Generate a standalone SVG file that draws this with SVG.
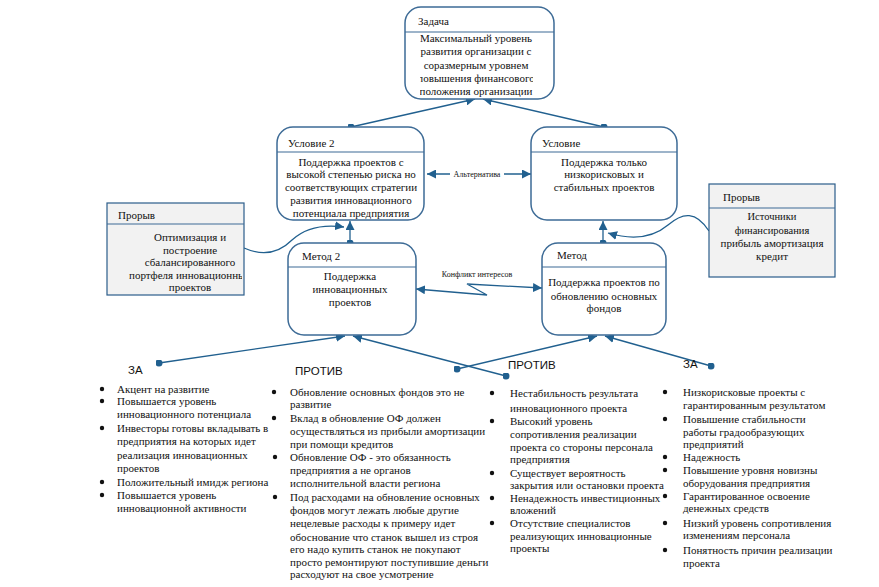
<svg xmlns="http://www.w3.org/2000/svg" width="879" height="587" viewBox="0 0 879 587">
<style>
.box{fill:#ffffff;stroke:#3d6b96;stroke-width:1.5}
.pbox{fill:#f2f2f2;stroke:#2b5d8a;stroke-width:1.2}
.div{stroke:#3d6b96;stroke-width:1.2}
.t{font-family:"Liberation Serif","Times New Roman",serif;font-size:11px;fill:#111}
.c{text-anchor:middle}
.lbl{font-family:"Liberation Serif","Times New Roman",serif;font-size:8px;fill:#111;text-anchor:middle}
.h{font-family:"Liberation Sans",Arial,sans-serif;font-size:11.5px;fill:#111}
.con{fill:none;stroke:#21608f;stroke-width:1.3}
.bul{fill:#111}
</style>
<defs>
<marker id="ah" viewBox="0 0 10 10" refX="10" refY="5" markerWidth="9" markerHeight="9" markerUnits="userSpaceOnUse" orient="auto-start-reverse"><path d="M0,0 L10,5 L0,10 z" fill="#21608f"/></marker>
<marker id="dot" viewBox="0 0 8 8" refX="4" refY="4" markerWidth="7" markerHeight="7" markerUnits="userSpaceOnUse"><circle cx="4" cy="4" r="4" fill="#21608f"/></marker>
<clipPath id="c1"><rect x="420" y="32" width="113" height="66"/></clipPath>
<clipPath id="c2"><rect x="284" y="152" width="134" height="67"/></clipPath>
<clipPath id="c3"><rect x="538" y="152" width="132" height="67"/></clipPath>
<clipPath id="c4"><rect x="295" y="267" width="115" height="67"/></clipPath>
<clipPath id="c5"><rect x="548" y="267" width="112" height="67"/></clipPath>
<clipPath id="c6"><rect x="110" y="225" width="132" height="68"/></clipPath>
<clipPath id="c7"><rect x="712" y="209" width="120" height="66"/></clipPath>
</defs>

<g id="connectors">
<path class="con" d="M351,127 L475,99" marker-start="url(#dot)" marker-end="url(#ah)"/>
<path class="con" d="M604,127 L483,99" marker-start="url(#dot)" marker-end="url(#ah)"/>
<path class="con" d="M427,174 L531,174" marker-start="url(#ah)" marker-end="url(#ah)"/>
<path class="con" d="M350,243 L350,221" marker-start="url(#dot)" marker-end="url(#ah)"/>
<path class="con" d="M244,248 C262,256 278,254 292,240 C305,228 322,224 344,227" marker-end="url(#ah)"/>
<path class="con" d="M603,243 L603,221" marker-start="url(#dot)" marker-end="url(#ah)"/>
<path class="con" d="M709,231 C696,211 683,212 668,225 C655,236 635,241 608,233" marker-end="url(#ah)"/>
<path class="con" d="M416,289 L487,295 L467,284 L542,288" marker-start="url(#ah)" marker-end="url(#ah)"/>
<path class="con" d="M159,363 L345,336" marker-start="url(#dot)" marker-end="url(#ah)"/>
<path class="con" d="M506,376 L353,336" marker-start="url(#dot)" marker-end="url(#ah)"/>
<path class="con" d="M457,369 L597,336" marker-start="url(#dot)" marker-end="url(#ah)"/>
<path class="con" d="M711,366 L605,336" marker-start="url(#dot)" marker-end="url(#ah)"/>
<rect x="450" y="169" width="54" height="10" fill="#ffffff"/>
<text class="lbl" x="477" y="177">Альтернатива</text>
<text class="lbl" x="477" y="277">Конфликт интересов</text>
</g>

<g id="zadacha">
<rect class="box" x="405" y="7" width="149" height="92" rx="16"/>
<line class="div" x1="405" y1="32" x2="554" y2="32"/>
<text class="t" x="418" y="25">Задача</text>
<g clip-path="url(#c1)">
<text class="t c" x="476" y="42">Максимальный уровень</text>
<text class="t c" x="476" y="55">развития организации с</text>
<text class="t c" x="476" y="68.5">соразмерным уровнем</text>
<text class="t c" x="476" y="81.5">повышения финансового</text>
<text class="t c" x="476" y="95">положения организации</text>
</g>
</g>

<g id="uslovie2">
<rect class="box" x="277" y="127" width="147" height="93" rx="16"/>
<line class="div" x1="277" y1="152" x2="424" y2="152"/>
<text class="t" x="288" y="147">Условие 2</text>
<g clip-path="url(#c2)">
<text class="t c" x="351" y="165.5">Поддержка проектов с</text>
<text class="t c" x="351" y="178">высокой степенью риска но</text>
<text class="t c" x="351" y="191">соответствующих стратегии</text>
<text class="t c" x="351" y="204">развития инновационного</text>
<text class="t c" x="351" y="217">потенциала предприятия</text>
</g>
</g>

<g id="uslovie">
<rect class="box" x="531" y="127" width="146" height="93" rx="16"/>
<line class="div" x1="531" y1="152" x2="677" y2="152"/>
<text class="t" x="542" y="147">Условие</text>
<g clip-path="url(#c3)">
<text class="t c" x="604" y="165.5">Поддержка только</text>
<text class="t c" x="604" y="178">низкорисковых и</text>
<text class="t c" x="604" y="191">стабильных проектов</text>
</g>
</g>

<g id="metod2">
<rect class="box" x="288" y="243" width="128" height="92" rx="16"/>
<line class="div" x1="288" y1="267" x2="416" y2="267"/>
<text class="t" x="302" y="260">Метод 2</text>
<g clip-path="url(#c4)">
<text class="t c" x="350" y="280">Поддержка</text>
<text class="t c" x="350" y="293">инновационных</text>
<text class="t c" x="350" y="305.5">проектов</text>
</g>
</g>

<g id="metod">
<rect class="box" x="542" y="243" width="124" height="92" rx="16"/>
<line class="div" x1="542" y1="267" x2="666" y2="267"/>
<text class="t" x="557" y="259">Метод</text>
<g clip-path="url(#c5)">
<text class="t c" x="604" y="286">Поддержка проектов по</text>
<text class="t c" x="604" y="299.5">обновлению основных</text>
<text class="t c" x="604" y="312">фондов</text>
</g>
</g>

<g id="proryv1">
<rect class="pbox" x="107" y="203" width="137" height="92"/>
<line class="div" x1="107" y1="224" x2="244" y2="224"/>
<text class="t" x="118" y="219">Прорыв</text>
<g clip-path="url(#c6)">
<text class="t c" x="190" y="241">Оптимизация и</text>
<text class="t c" x="190" y="253.5">построение</text>
<text class="t c" x="190" y="266">сбалансированного</text>
<text class="t c" x="190" y="278.5">портфеля инновационных</text>
<text class="t c" x="190" y="291">проектов</text>
</g>
</g>

<g id="proryv2">
<rect class="pbox" x="709" y="184" width="126" height="93"/>
<line class="div" x1="709" y1="208" x2="835" y2="208"/>
<text class="t" x="723" y="201">Прорыв</text>
<g clip-path="url(#c7)">
<text class="t c" x="772" y="220" style="font-size:10.5px">Источники</text>
<text class="t c" x="772" y="233.5" style="font-size:10.5px">финансирования</text>
<text class="t c" x="772" y="247">прибыль амортизация</text>
<text class="t c" x="772" y="260">кредит</text>
</g>
</g>

<g id="za1">
<text class="h" x="128" y="374">ЗА</text>
<circle class="bul" cx="102" cy="389" r="2.2"/>
<circle class="bul" cx="102" cy="401" r="2.2"/>
<circle class="bul" cx="102" cy="428" r="2.2"/>
<circle class="bul" cx="102" cy="482" r="2.2"/>
<circle class="bul" cx="102" cy="495" r="2.2"/>
<text class="t" x="117" y="392.5">Акцент на развитие</text>
<text class="t" x="117" y="404.5">Повышается уровень</text>
<text class="t" x="117" y="417.5">инновационного потенциала</text>
<text class="t" x="117" y="431.5">Инвесторы готовы вкладывать в</text>
<text class="t" x="117" y="444.5">предприятия на которых идет</text>
<text class="t" x="117" y="458.5">реализация инновационных</text>
<text class="t" x="117" y="471.5">проектов</text>
<text class="t" x="117" y="485.5">Положительный имидж региона</text>
<text class="t" x="117" y="498.5">Повышается уровень</text>
<text class="t" x="117" y="511.5">инновационной активности</text>
</g>

<g id="protiv1">
<text class="h" x="295" y="375">ПРОТИВ</text>
<circle class="bul" cx="274" cy="392" r="2.2"/>
<circle class="bul" cx="274" cy="418" r="2.2"/>
<circle class="bul" cx="275" cy="457" r="2.2"/>
<circle class="bul" cx="275" cy="497" r="2.2"/>
<text class="t" x="290" y="395.5">Обновление основных фондов   это не</text>
<text class="t" x="290" y="408">развитие</text>
<text class="t" x="290" y="421.5">Вклад в обновление ОФ должен</text>
<text class="t" x="290" y="435">осуществляться из прибыли амортизации</text>
<text class="t" x="290" y="447.5">при помощи кредитов</text>
<text class="t" x="290" y="461">Обновление ОФ - это обязанность</text>
<text class="t" x="290" y="474">предприятия а не органов</text>
<text class="t" x="290" y="487">исполнительной власти региона</text>
<text class="t" x="290" y="500.5">Под расходами на обновление основных</text>
<text class="t" x="290" y="514">фондов могут лежать любые другие</text>
<text class="t" x="290" y="527">нецелевые расходы к примеру идет</text>
<text class="t" x="290" y="540.5">обоснование что станок вышел из строя</text>
<text class="t" x="290" y="553">его надо купить станок не покупают</text>
<text class="t" x="290" y="565.5">просто ремонтируют поступившие деньги</text>
<text class="t" x="290" y="578">расходуют на свое усмотрение</text>
</g>

<g id="protiv2">
<text class="h" x="508" y="369">ПРОТИВ</text>
<circle class="bul" cx="492" cy="393" r="2.2"/>
<circle class="bul" cx="492" cy="421" r="2.2"/>
<circle class="bul" cx="492" cy="473" r="2.2"/>
<circle class="bul" cx="492" cy="498" r="2.2"/>
<circle class="bul" cx="492" cy="523" r="2.2"/>
<text class="t" x="510" y="397">Нестабильность результата</text>
<text class="t" x="510" y="411.5">инновационного проекта</text>
<text class="t" x="510" y="424.5">Высокий уровень</text>
<text class="t" x="510" y="437.5">сопротивления реализации</text>
<text class="t" x="510" y="450.5">проекта со стороны персонала</text>
<text class="t" x="510" y="462.5">предприятия</text>
<text class="t" x="510" y="476.5">Существует вероятность</text>
<text class="t" x="510" y="488.5">закрытия или остановки проекта</text>
<text class="t" x="510" y="501.5">Ненадежность инвестиционных</text>
<text class="t" x="510" y="513.5">вложений</text>
<text class="t" x="510" y="526.5">Отсутствие специалистов</text>
<text class="t" x="510" y="539.5">реализующих инновационные</text>
<text class="t" x="510" y="551.5">проекты</text>
</g>

<g id="za2">
<text class="h" x="683" y="368">ЗА</text>
<circle class="bul" cx="665" cy="392" r="2.2"/>
<circle class="bul" cx="665" cy="419" r="2.2"/>
<circle class="bul" cx="665" cy="457" r="2.2"/>
<circle class="bul" cx="665" cy="470" r="2.2"/>
<circle class="bul" cx="665" cy="496" r="2.2"/>
<circle class="bul" cx="665" cy="523" r="2.2"/>
<circle class="bul" cx="665" cy="550" r="2.2"/>
<text class="t" x="683" y="395.5">Низкорисковые проекты с</text>
<text class="t" x="683" y="408.5">гарантированным результатом</text>
<text class="t" x="683" y="422.5">Повышение стабильности</text>
<text class="t" x="683" y="435.5">работы градообразующих</text>
<text class="t" x="683" y="447.5">предприятий</text>
<text class="t" x="683" y="460.5">Надежность</text>
<text class="t" x="683" y="473.5">Повышение уровня новизны</text>
<text class="t" x="683" y="486.5">оборудования предприятия</text>
<text class="t" x="683" y="499.5">Гарантированное освоение</text>
<text class="t" x="683" y="511.5">денежных средств</text>
<text class="t" x="683" y="526.5">Низкий уровень сопротивления</text>
<text class="t" x="683" y="538.5">изменениям персонала</text>
<text class="t" x="683" y="553.5">Понятность причин реализации</text>
<text class="t" x="683" y="566.5">проекта</text>
</g>
</svg>
